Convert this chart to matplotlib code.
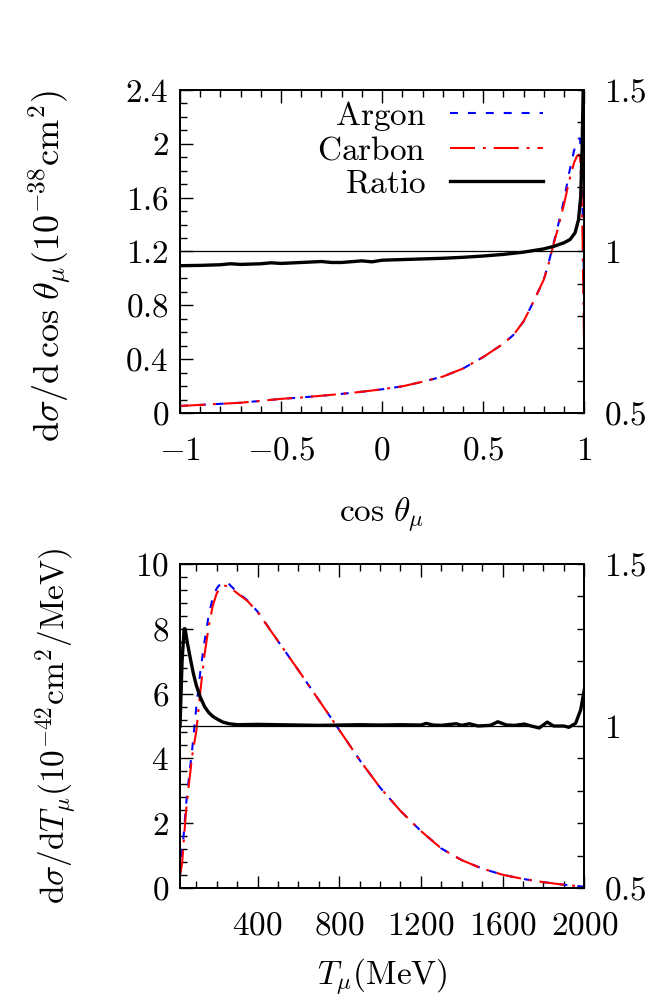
import numpy as np
import matplotlib
matplotlib.use("Agg")
import matplotlib.pyplot as plt
from matplotlib.ticker import MultipleLocator, FixedLocator, FuncFormatter

plt.rcParams['mathtext.fontset'] = 'cm'
plt.rcParams['font.family'] = 'serif'
plt.rcParams['font.serif'] = ['cmr10', 'DejaVu Serif']
plt.rcParams['axes.unicode_minus'] = False

# ---------------- data: top panel (cos theta) ----------------
cos_theta = [-1.0, -0.9, -0.8, -0.7, -0.6, -0.5, -0.4, -0.3, -0.2, -0.1, 0.0,
             0.1, 0.2, 0.3, 0.4, 0.5, 0.55, 0.6, 0.65, 0.7, 0.75, 0.8, 0.825,
             0.85, 0.875, 0.9, 0.925, 0.95, 0.965, 0.975, 0.98, 0.99, 1.0]
argon_cos = [0.052, 0.060, 0.068, 0.076, 0.090, 0.105, 0.115, 0.128, 0.142, 0.158, 0.176,
             0.198, 0.232, 0.270, 0.330, 0.415, 0.465, 0.515, 0.580, 0.680, 0.830, 0.990, 1.120,
             1.270, 1.420, 1.580, 1.780, 1.950, 2.020, 2.040, 2.040, 1.700, 0.890]
carbon_cos = [0.052, 0.060, 0.068, 0.076, 0.090, 0.105, 0.115, 0.128, 0.142, 0.158, 0.176,
              0.198, 0.232, 0.270, 0.330, 0.415, 0.465, 0.515, 0.580, 0.680, 0.830, 0.990, 1.115,
              1.260, 1.400, 1.550, 1.720, 1.860, 1.910, 1.920, 1.900, 1.500, 0.450]

cos_ratio = [-1.0, -0.9, -0.8, -0.75, -0.7, -0.6, -0.55, -0.5, -0.4, -0.3, -0.25, -0.2,
             -0.1, -0.05, 0.0, 0.1, 0.2, 0.3, 0.4, 0.5, 0.6, 0.7, 0.8, 0.85, 0.9,
             0.93, 0.955, 0.972, 0.983, 0.99, 0.995, 1.0]
ratio_cos = [0.956, 0.957, 0.959, 0.962, 0.960, 0.962, 0.965, 0.963, 0.966, 0.969, 0.966, 0.966,
             0.971, 0.968, 0.973, 0.975, 0.977, 0.979, 0.982, 0.986, 0.991, 0.998, 1.008, 1.016, 1.027,
             1.037, 1.058, 1.098, 1.170, 1.320, 1.500, 1.600]

# ---------------- data: bottom panel (T_mu) ----------------
t_mu = [20, 30, 40, 50, 60, 80, 100, 120, 140, 160, 180, 200, 220, 240, 260, 300, 350,
        400, 500, 600, 700, 800, 900, 1000, 1100, 1200, 1300, 1400, 1500, 1600, 1700,
        1800, 1900, 2000]
argon_t = [0.40, 1.10, 1.80, 2.60, 3.20, 4.30, 5.60, 6.70, 7.60, 8.40, 8.95, 9.25, 9.40, 9.45,
           9.38, 9.13, 8.88, 8.53, 7.62, 6.72, 5.80, 4.88, 3.95, 3.10, 2.38, 1.76, 1.22,
           0.86, 0.60, 0.41, 0.28, 0.18, 0.10, 0.04]
carbon_t = [0.40, 0.75, 1.60, 2.40, 3.00, 4.10, 4.85, 6.10, 7.20, 8.05, 8.70, 9.10, 9.28, 9.33,
            9.30, 9.10, 8.86, 8.52, 7.62, 6.72, 5.80, 4.88, 3.95, 3.10, 2.38, 1.76, 1.22,
            0.86, 0.60, 0.41, 0.28, 0.18, 0.10, 0.04]

t_ratio = [20, 30, 40, 45, 55, 70, 85, 100, 120, 140, 160, 180, 200, 230, 260, 300, 400,
           500, 600, 700, 800, 900, 1000, 1100, 1200, 1226, 1260, 1300, 1373, 1400, 1438,
           1480, 1540, 1577, 1620, 1660, 1707, 1740, 1780, 1819, 1850, 1900, 1925, 1958,
           1983, 2000]
ratio_t = [1.000, 1.200, 1.300, 1.300, 1.260, 1.210, 1.163, 1.125, 1.088, 1.060, 1.042, 1.030,
           1.022, 1.012, 1.007, 1.004, 1.005, 1.004, 1.003, 1.002, 1.003, 1.004, 1.003, 1.004,
           1.003, 1.008, 1.003, 1.002, 1.007, 1.002, 1.007, 1.000, 1.002, 1.013, 1.003, 1.002,
           1.006, 1.000, 0.994, 1.012, 1.000, 1.000, 0.996, 1.008, 1.050, 1.110]

# ---------------- figure ----------------
FS = 24
fig = plt.figure(figsize=(6.68, 10.08), dpi=100)

blue_kw = dict(color='#0000ff', lw=1.5, dashes=(3.8, 4.8))
red_kw = dict(color='#ff0000', lw=1.5, dashes=(12, 3.8, 1.4, 3.8))
black_kw = dict(color='black', lw=2.4)

def fmt(v, p):
    return '$' + ('%g' % v) + '$'

def style(ax, ax2, xmaj, xmin_, ymaj, ymin_, rticks):
    ax.tick_params(axis='both', which='both', direction='in', top=True, right=False,
                   labelsize=FS, width=1.0)
    ax.tick_params(axis='both', which='major', length=9)
    ax.tick_params(axis='both', which='minor', length=5)
    ax.tick_params(axis='x', which='major', pad=17)
    ax.tick_params(axis='y', which='major', pad=8)
    ax.xaxis.set_major_locator(xmaj)
    ax.xaxis.set_minor_locator(MultipleLocator(xmin_))
    ax.yaxis.set_major_locator(MultipleLocator(ymaj))
    ax.yaxis.set_minor_locator(MultipleLocator(ymin_))
    ax.xaxis.set_major_formatter(FuncFormatter(fmt))
    ax.yaxis.set_major_formatter(FuncFormatter(fmt))
    ax2.set_ylim(0.5, 1.5)
    ax2.yaxis.set_major_locator(FixedLocator(rticks))
    ax2.yaxis.set_minor_locator(MultipleLocator(0.1))
    ax2.yaxis.set_major_formatter(FuncFormatter(fmt))
    ax2.tick_params(axis='y', which='both', direction='in', left=False, right=True,
                    labelsize=FS, width=1.0, length=5, pad=14)
    for a in (ax, ax2):
        for sp in a.spines.values():
            sp.set_linewidth(1.3)
    ax2.axhline(1.0, color='black', lw=0.9)

# ---- top panel ----
ax1 = fig.add_axes([0.2695, 0.5903, 0.6050, 0.3204])
ax1r = ax1.twinx()
l1, = ax1.plot(cos_theta, argon_cos, **blue_kw)
l2, = ax1.plot(cos_theta, carbon_cos, **red_kw)
l3, = ax1r.plot(cos_ratio, ratio_cos, **black_kw)
ax1.set_xlim(-1, 1)
ax1.set_ylim(0, 2.4)
style(ax1, ax1r, MultipleLocator(0.5), 0.1, 0.4, 0.1, [0.5, 1.0, 1.5])
ax1.set_xlabel(r'$\cos\,\theta_\mu$', fontsize=FS)
ax1.xaxis.set_label_coords(0.5, -0.255)
ax1.set_ylabel(r'$\mathrm{d}\sigma/\mathrm{d}\,\cos\,\theta_\mu(10^{-38}\mathrm{cm}^2)$', fontsize=26)
ax1.yaxis.set_label_coords(-0.265, 0.455)
leg = ax1.legend([l1, l2, l3],
                 [r'$\mathrm{Argon}$', r'$\mathrm{Carbon}$', r'$\mathrm{Ratio}$'],
                 loc='upper right', bbox_to_anchor=(0.898, 0.972), frameon=False,
                 markerfirst=False, fontsize=FS, handlelength=2.8, handletextpad=0.7,
                 borderpad=0, borderaxespad=0, labelspacing=0.1)

# ---- bottom panel ----
ax3 = fig.add_axes([0.2695, 0.11905, 0.6050, 0.32143])
ax3r = ax3.twinx()
ax3.plot(t_mu, argon_t, **blue_kw)
ax3.plot(t_mu, carbon_t, **red_kw)
ax3r.plot(t_ratio, ratio_t, **black_kw)
ax3.set_xlim(20, 2000)
ax3.set_ylim(0, 10)
style(ax3, ax3r, FixedLocator([400, 800, 1200, 1600, 2000]), 100, 2, 0.4, [0.5, 1.0, 1.5])
ax3.set_xlabel(r'$T_\mu(\mathrm{MeV})$', fontsize=FS)
ax3.xaxis.set_label_coords(0.5, -0.21)
ax3.set_ylabel(r'$\mathrm{d}\sigma/\mathrm{d}T_\mu(10^{-42}\mathrm{cm}^2/\mathrm{MeV})$', fontsize=FS)
ax3.yaxis.set_label_coords(-0.25, 0.5)

fig.savefig('out.png', dpi=100)
